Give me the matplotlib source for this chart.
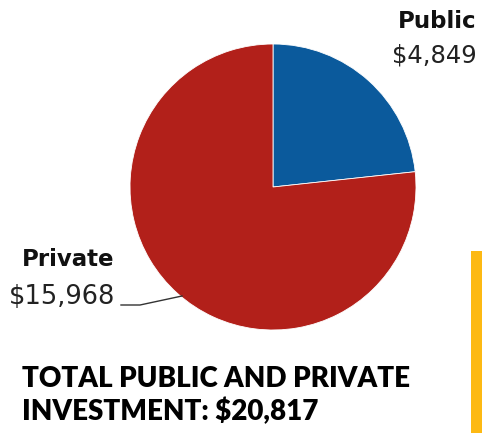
import matplotlib
matplotlib.use('Agg')
import matplotlib.pyplot as plt
from matplotlib.lines import Line2D
from matplotlib.patches import Rectangle

# investment split (dollars)
labels = ["Public", "Private"]
values = [4849, 15968]
colors = ["#0b5a9c", "#b2201a"]
total = sum(values)

W, H = 482, 433
fig = plt.figure(figsize=(W / 100, H / 100), dpi=100)
plt.rcParams['font.family'] = ['DejaVu Sans']

# pie placed in pixel terms: center (273, 187), radius 143
cx, cy, r = 273, 187, 143
ax = fig.add_axes([(cx - r) / W, (H - cy - r) / H, 2 * r / W, 2 * r / H])
ax.pie(values, colors=colors, startangle=90, counterclock=False,
       wedgeprops=dict(linewidth=0.6, edgecolor="white"))
ax.set_xlim(-1, 1)
ax.set_ylim(-1, 1)
ax.set_aspect('equal')
ax.axis('off')

def px(x, y):
    return x / W, 1 - y / H

# slice labels
fig.text(*px(477, 22), labels[0], ha="right", va="center", fontsize=16.5, fontweight="bold", color="#111111")
fig.text(*px(477, 55), f"${values[0]:,}", ha="right", va="center", fontsize=17.5, color="#222222")
fig.text(*px(22, 260), labels[1], ha="left", va="center", fontsize=16.5, fontweight="bold", color="#111111")
fig.text(*px(9, 297), f"${values[1]:,}", ha="left", va="center", fontsize=18.5, color="#222222")

# leader line for the private slice
x0, y0 = px(121, 305)
x1, y1 = px(140, 305)
x2, y2 = px(182, 296)
fig.add_artist(Line2D([x0, x1, x2], [y0, y1, y2], color="#333333", linewidth=1.0))

# total caption
fig.text(*px(22, 379), "TOTAL PUBLIC AND PRIVATE", ha="left", va="center", fontsize=20,
         fontweight="heavy", family=["Lato", "DejaVu Sans"], color="#000000")
fig.text(*px(22, 411), f"INVESTMENT: ${total:,}", ha="left", va="center", fontsize=20,
         fontweight="heavy", family=["Lato", "DejaVu Sans"], color="#000000")

# yellow accent bar
fig.add_artist(Rectangle(px(471, 433), 11 / W, (433 - 251) / H, transform=fig.transFigure,
                         facecolor="#fdb913", edgecolor="none"))

fig.savefig("out.png", dpi=100, facecolor="white")
